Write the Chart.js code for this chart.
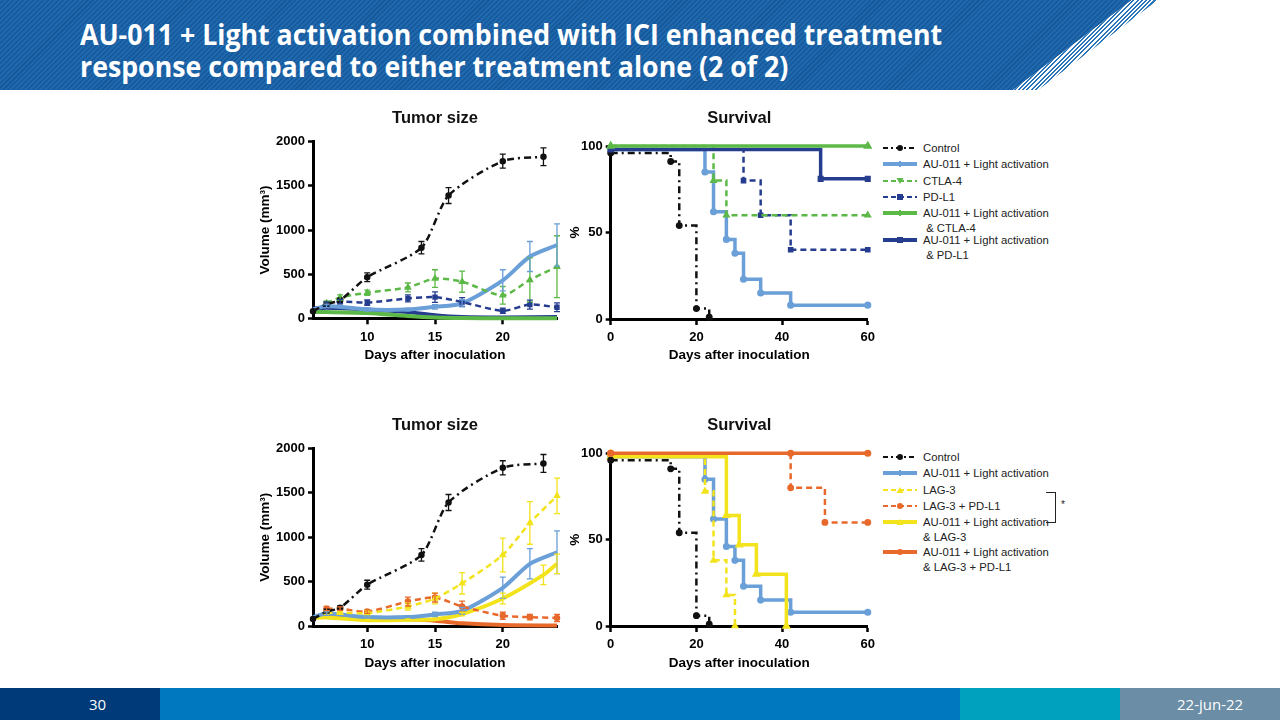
<!DOCTYPE html>
<html>
<head>
<meta charset="utf-8">
<script src="https://cdn.jsdelivr.net/npm/chart.js@4.4.1/dist/chart.umd.min.js"></script>
<style>
  body { margin: 0; width: 1280px; height: 720px; overflow: hidden; background: #fff; position: relative; font-family: "Liberation Sans", Arial, sans-serif; }
  #header { position: absolute; left: 0; top: 0; width: 1280px; height: 90px;
    background: repeating-linear-gradient(135deg, #1f68ad 0 2px, #165a9c 2px 3.5px);
    clip-path: polygon(0 0, 1132px 0, 1013px 90px, 0 90px); }
  #stripes { position: absolute; left: 0; top: 0; width: 1280px; height: 90px;
    background: repeating-linear-gradient(135deg, #2a74b8 0 1.5px, #ffffff 1.5px 3px);
    clip-path: polygon(1132px 0, 1158px 0, 1038px 90px, 1013px 90px); }
  #title { position: absolute; left: 80px; top: 18px; color: #fff; font-family: "Open Sans", sans-serif; font-weight: 700; font-size: 28px; line-height: 32px; white-space: nowrap; transform-origin: 0 0; }
  canvas { position: absolute; }
  .legend { position: absolute; left: 883px; font-size: 11.3px; color: #222; }
  .item { position: absolute; left: 0; white-space: nowrap; line-height: 14.5px; }
  .item svg { position: absolute; left: 0; top: 2px; }
  .item .txt { position: absolute; left: 40px; top: 0; }
  #bracket { position: absolute; left: 1046px; top: 492px; width: 9px; height: 29px; border: 1.5px solid #222; border-left: none; }
  #star { position: absolute; left: 1061px; top: 499px; font-size: 10px; color: #222; }
  #footer div { position: absolute; top: 688px; height: 32px; }
  .ftxt { position: absolute; top: 694px; color: #fff; font-family: "Open Sans", sans-serif; font-size: 15px; }
</style>
</head>
<body>
<div id="header"></div>
<div id="stripes"></div>
<div id="title">AU-011 + Light activation combined with ICI enhanced treatment<br>response compared to either treatment alone (2 of 2)</div>

<canvas id="tumorTop" width="320" height="270" style="left:250px;top:100px"></canvas>
<canvas id="survTop" width="314" height="270" style="left:566px;top:100px"></canvas>
<canvas id="tumorBottom" width="320" height="270" style="left:250px;top:410px"></canvas>
<canvas id="survBottom" width="314" height="270" style="left:566px;top:410px"></canvas>

<div class="legend" id="legendTop" style="top:0"></div>
<div class="legend" id="legendBottom" style="top:0"></div>
<div id="bracket"></div>
<div id="star">*</div>

<div id="footer">
  <div style="left:0;width:160px;background:#003a78"></div>
  <div style="left:160px;width:800px;background:#0078c0"></div>
  <div style="left:960px;width:160px;background:#00a0bf"></div>
  <div style="left:1120px;width:160px;background:#6b8da6"></div>
</div>
<div class="ftxt" style="left:89px">30</div>
<div class="ftxt" style="left:1177px">22-jun-22</div>

<script>
// axis ticks
const tumorXTicks = [10, 15, 20];
const tumorYTicks = [0, 500, 1000, 1500, 2000];
const survXTicks = [0, 20, 40, 60];
const survYTicks = [0, 50, 100];

// tumor size, mm3 (days after inoculation)
const dayControl = [6, 7, 8, 10, 14, 16, 20, 23];
const volControl = [80, 160, 205, 465, 800, 1390, 1780, 1830];
const errControl = [0, 30, 20, 50, 70, 90, 80, 100];

const dayAu = [6, 7, 10, 13, 15, 17, 20, 22, 24];
const volAu = [100, 140, 100, 100, 130, 170, 430, 700, 830];
const errAu = [0, 20, 15, 15, 25, 40, 120, 170, 240];

const dayCtla4 = [7, 8, 10, 13, 15, 17, 20, 22, 24];
const volCtla4 = [170, 235, 290, 350, 450, 415, 260, 435, 585];
const errCtla4 = [20, 30, 30, 50, 100, 120, 100, 250, 350];

const dayPdl1 = [7, 8, 10, 13, 15, 17, 20, 22, 24];
const volPdl1 = [165, 190, 178, 225, 240, 185, 85, 155, 125];
const errPdl1 = [20, 25, 30, 40, 60, 50, 30, 50, 50];

const dayAuCtla4 = [6, 7, 10, 13, 15, 17, 20, 24];
const volAuCtla4 = [70, 70, 60, 25, 8, 2, 0, 0];

const dayAuPdl1 = [6, 7, 10, 13, 15, 17, 20, 24];
const volAuPdl1 = [110, 120, 100, 70, 35, 15, 10, 15];

const dayLag3 = [7, 8, 10, 13, 15, 17, 20, 22, 24];
const volLag3 = [150, 150, 145, 220, 310, 480, 800, 1160, 1465];
const errLag3 = [20, 20, 30, 40, 60, 120, 190, 240, 200];

const dayLag3Pdl1 = [7, 8, 10, 13, 15, 17, 20, 22, 24];
const volLag3Pdl1 = [195, 195, 162, 275, 320, 220, 115, 100, 90];
const errLag3Pdl1 = [25, 20, 20, 50, 50, 60, 40, 30, 40];

const dayAuLag3 = [6, 7, 10, 13, 15, 17, 20, 23, 24];
const volAuLag3 = [90, 95, 65, 70, 75, 135, 310, 575, 700];
const errAuLag3 = [0, 0, 10, 10, 10, 20, 60, 110, 110];

const dayAuLag3Pdl1 = [6, 7, 10, 13, 15, 17, 20, 24];
const volAuLag3Pdl1 = [100, 105, 90, 75, 60, 30, 10, 5];

// survival, % (Kaplan-Meier steps)
const sdControl = [0, 14, 16, 20, 23];
const svControl = [96, 91, 54, 6, 1];
const sdAu = [0, 22, 24, 27, 29, 31, 35, 42, 60];
const svAu = [98, 85, 62, 46, 38, 23, 15, 8, 8];
const sdCtla4 = [0, 24, 27, 60];
const svCtla4 = [100, 80, 60, 60];
const sdPdl1 = [0, 31, 35, 42, 60];
const svPdl1 = [98, 80, 60, 40, 40];
const sdAuCtla4 = [0, 60];
const svAuCtla4 = [100, 100];
const sdAuPdl1 = [0, 49, 60];
const svAuPdl1 = [98, 81, 81];
const sdLag3 = [0, 22, 24, 27, 29];
const svLag3 = [100, 78, 38, 18, 0];
const sdLag3Pdl1 = [0, 42, 50, 60];
const svLag3Pdl1 = [100, 80, 60, 60];
const sdAuLag3 = [0, 27, 30, 34, 41];
const svAuLag3 = [98, 64, 47, 30, 0];
const sdAuLag3Pdl1 = [0, 42, 60];
const svAuLag3Pdl1 = [100, 100, 100];

const BLACK = "#111111";
const LIGHTBLUE = "#6a9fd8";
const NAVY = "#263d8f";
const GREEN = "#5cb947";
const YELLOW = "#f2e31c";
const ORANGE = "#e8692c";

const DASHES = { dashdot: [7, 4, 2, 4], dash: [6, 4], solid: [] };
const FONT = "'Liberation Sans', Arial, sans-serif";

function pts(xs, ys) {
  return xs.map((x, i) => ({ x: x, y: ys[i] }));
}

function series(label, xs, ys, color, style, marker, order, errs) {
  const solid = style === "solid";
  return {
    label: label,
    data: pts(xs, ys),
    borderColor: color,
    backgroundColor: color,
    borderWidth: solid ? 4 : 2.5,
    borderDash: DASHES[style],
    pointStyle: marker,
    pointRadius: solid ? 0 : 2,
    tension: 0.25,
    order: order,
    clip: 6,
    errors: errs,
  };
}

function steps(label, xs, ys, color, style, marker, order) {
  const solid = style === "solid";
  return {
    label: label,
    data: pts(xs, ys),
    borderColor: color,
    backgroundColor: color,
    borderWidth: solid ? 3.5 : 2.5,
    borderDash: DASHES[style],
    pointStyle: marker,
    pointRadius: solid ? 1.8 : 2.2,
    stepped: true,
    order: order,
    clip: 6,
  };
}

// vertical error bars (mean +/- SEM)
const errorBars = {
  id: "errorBars",
  afterDatasetsDraw(chart) {
    const ctx = chart.ctx;
    const yScale = chart.scales.y;
    chart.data.datasets.forEach((ds, i) => {
      if (!ds.errors) return;
      const meta = chart.getDatasetMeta(i);
      ctx.save();
      ctx.strokeStyle = ds.borderColor;
      ctx.lineWidth = 1.3;
      meta.data.forEach((pt, j) => {
        const e = ds.errors[j];
        if (!e) return;
        const v = ds.data[j].y;
        const top = yScale.getPixelForValue(v + e);
        const bot = yScale.getPixelForValue(Math.max(v - e, 0));
        ctx.beginPath();
        ctx.moveTo(pt.x, top); ctx.lineTo(pt.x, bot);
        ctx.moveTo(pt.x - 3, top); ctx.lineTo(pt.x + 3, top);
        ctx.moveTo(pt.x - 3, bot); ctx.lineTo(pt.x + 3, bot);
        ctx.stroke();
      });
      ctx.restore();
    });
  },
};

function axis(min, max, ticks, title) {
  return {
    type: "linear",
    min: min,
    max: max,
    afterBuildTicks: (s) => { s.ticks = ticks.map((v) => ({ value: v })); },
    grid: { drawOnChartArea: false, drawTicks: true, tickLength: 5, tickWidth: 2.5, tickColor: "#000" },
    border: { display: true, color: "#000", width: 3 },
    ticks: { color: "#000", padding: 4, font: { family: FONT, size: 13, weight: "bold" },
      callback: (v) => String(v) },
    title: { display: true, text: title, color: "#000", font: { family: FONT, size: 13.5, weight: "bold" } },
  };
}

// geo: [canvas height, plot top, plot bottom, plot left, right pad, title centre, x title centre, y title centre]
function makeChart(id, datasets, xr, yr, titleText, yTitle, geo) {
  const [h, plotTop, plotBottom, plotLeft, rightPad, titleY, xTitleY, yTitleX] = geo;
  const titleFont = 16.5;
  const titleH = titleFont * 1.2;
  const padTop = titleY - titleH / 2;
  const xAxisH = h - plotBottom;
  const xt = axis(xr[0], xr[1], xr[2], "Days after inoculation");
  xt.afterFit = (s) => { s.height = xAxisH; };
  xt.title.padding = { top: 0, bottom: h - xTitleY - 13.5 * 1.2 / 2 };
  xt.ticks.padding = 5;
  xt.grid.tickLength = 6;
  const yt = axis(yr[0], yr[1], yr[2], yTitle);
  yt.afterFit = (s) => { s.width = plotLeft; };
  yt.title.padding = { top: Math.max(yTitleX - 13.5 * 1.2 / 2, 0), bottom: 0 };
  yt.ticks.padding = 3;
  return new Chart(document.getElementById(id), {
    type: "line",
    data: { datasets: datasets },
    options: {
      responsive: false,
      animation: false,
      layout: { padding: { top: padTop, right: rightPad, left: 0, bottom: 0 } },
      plugins: {
        legend: { display: false },
        tooltip: { enabled: false },
        title: {
          display: true,
          fullSize: false,
          text: titleText,
          color: "#111",
          font: { family: FONT, size: titleFont, weight: "bold" },
          padding: { top: 0, bottom: plotTop - padTop - titleH },
        },
      },
      scales: { x: xt, y: yt },
    },
    plugins: [errorBars],
  });
}

makeChart("tumorTop", [
  series("Control", dayControl, volControl, BLACK, "dashdot", "circle", 0, errControl),
  series("CTLA-4", dayCtla4, volCtla4, GREEN, "dash", "triangle", 1, errCtla4),
  series("PD-L1", dayPdl1, volPdl1, NAVY, "dash", "rect", 2, errPdl1),
  series("AU-011 + Light activation", dayAu, volAu, LIGHTBLUE, "solid", "circle", 3, errAu),
  series("AU-011 + Light activation & CTLA-4", dayAuCtla4, volAuCtla4, GREEN, "solid", "triangle", 4),
  series("AU-011 + Light activation & PD-L1", dayAuPdl1, volAuPdl1, NAVY, "solid", "rect", 5),
], [6, 24, tumorXTicks], [0, 2000, tumorYTicks], "Tumor size", "Volume (mm³)",
  [270, 41.7, 218.3, 63, 13, 18, 255, 15]);

makeChart("survTop", [
  steps("AU-011 + Light activation & CTLA-4", sdAuCtla4, svAuCtla4, GREEN, "solid", "triangle", 0),
  steps("AU-011 + Light activation & PD-L1", sdAuPdl1, svAuPdl1, NAVY, "solid", "rect", 1),
  steps("Control", sdControl, svControl, BLACK, "dashdot", "circle", 2),
  steps("CTLA-4", sdCtla4, svCtla4, GREEN, "dash", "triangle", 3),
  steps("PD-L1", sdPdl1, svPdl1, NAVY, "dash", "rect", 4),
  steps("AU-011 + Light activation", sdAu, svAu, LIGHTBLUE, "solid", "circle", 5),
], [0, 60, survXTicks], [0, 100, survYTicks], "Survival", "%",
  [270, 46, 219, 44.7, 9, 18, 255, 9]);

makeChart("tumorBottom", [
  series("Control", dayControl, volControl, BLACK, "dashdot", "circle", 0, errControl),
  series("LAG-3", dayLag3, volLag3, YELLOW, "dash", "triangle", 1, errLag3),
  series("LAG-3 + PD-L1", dayLag3Pdl1, volLag3Pdl1, ORANGE, "dash", "circle", 2, errLag3Pdl1),
  series("AU-011 + Light activation", dayAu, volAu, LIGHTBLUE, "solid", "circle", 3, errAu),
  series("AU-011 + Light activation & LAG-3", dayAuLag3, volAuLag3, YELLOW, "solid", "triangle", 4, errAuLag3),
  series("AU-011 + Light activation & LAG-3 + PD-L1", dayAuLag3Pdl1, volAuLag3Pdl1, ORANGE, "solid", "circle", 5),
], [6, 24, tumorXTicks], [0, 2000, tumorYTicks], "Tumor size", "Volume (mm³)",
  [270, 38.3, 216, 63, 13, 15, 253, 15]);

makeChart("survBottom", [
  steps("AU-011 + Light activation & LAG-3 + PD-L1", sdAuLag3Pdl1, svAuLag3Pdl1, ORANGE, "solid", "circle", 0),
  steps("LAG-3 + PD-L1", sdLag3Pdl1, svLag3Pdl1, ORANGE, "dash", "circle", 1),
  steps("Control", sdControl, svControl, BLACK, "dashdot", "circle", 2),
  steps("AU-011 + Light activation & LAG-3", sdAuLag3, svAuLag3, YELLOW, "solid", "triangle", 3),
  steps("LAG-3", sdLag3, svLag3, YELLOW, "dash", "triangle", 4),
  steps("AU-011 + Light activation", sdAu, svAu, LIGHTBLUE, "solid", "circle", 5),
], [0, 60, survXTicks], [0, 100, survYTicks], "Survival", "%",
  [270, 43.3, 216, 44.7, 9, 15, 253, 9]);

// legends (shared by each pair of panels)
function sample(color, style, marker) {
  const w = style === "solid" ? 4 : 2;
  const dash = style === "dashdot" ? 'stroke-dasharray="5,3,2,3"' : style === "dash" ? 'stroke-dasharray="5,3"' : "";
  let m = "";
  if (marker === "circle") m = `<circle cx="17" cy="5" r="3" fill="${color}"/>`;
  if (marker === "rect") m = `<rect x="14" y="2" width="6" height="6" fill="${color}"/>`;
  if (marker === "tridown") m = `<polygon points="13.5,2 20.5,2 17,8" fill="${color}"/>`;
  if (marker === "tri") m = `<polygon points="13.5,8 20.5,8 17,2" fill="${color}"/>`;
  if (marker === "tick") m = `<rect x="16" y="2" width="2" height="6" fill="${color}"/>`;
  return `<svg width="34" height="10"><line x1="0" y1="5" x2="34" y2="5" stroke="${color}" stroke-width="${w}" ${dash}/>${m}</svg>`;
}

function buildLegend(id, items) {
  const el = document.getElementById(id);
  items.forEach((it) => {
    const d = document.createElement("div");
    d.className = "item";
    d.style.top = (it.y - 7) + "px";
    d.innerHTML = sample(it.color, it.style, it.marker) + `<div class="txt">${it.text.join("<br>")}</div>`;
    el.appendChild(d);
  });
}

buildLegend("legendTop", [
  { y: 148, text: ["Control"], color: BLACK, style: "dashdot", marker: "circle" },
  { y: 164, text: ["AU-011 + Light activation"], color: LIGHTBLUE, style: "solid", marker: "tick" },
  { y: 181, text: ["CTLA-4"], color: GREEN, style: "dash", marker: "tridown" },
  { y: 197, text: ["PD-L1"], color: NAVY, style: "dash", marker: "rect" },
  { y: 213, text: ["AU-011 + Light activation", "&nbsp;&amp; CTLA-4"], color: GREEN, style: "solid", marker: "tick" },
  { y: 240, text: ["AU-011 + Light activation", "&nbsp;&amp; PD-L1"], color: NAVY, style: "solid", marker: "rect" },
]);

buildLegend("legendBottom", [
  { y: 457, text: ["Control"], color: BLACK, style: "dashdot", marker: "circle" },
  { y: 473, text: ["AU-011 + Light activation"], color: LIGHTBLUE, style: "solid", marker: "tick" },
  { y: 490, text: ["LAG-3"], color: YELLOW, style: "dash", marker: "tri" },
  { y: 506, text: ["LAG-3 + PD-L1"], color: ORANGE, style: "dash", marker: "circle" },
  { y: 522, text: ["AU-011 + Light activation", "&amp; LAG-3"], color: YELLOW, style: "solid", marker: "tri" },
  { y: 552, text: ["AU-011 + Light activation", "&amp; LAG-3 + PD-L1"], color: ORANGE, style: "solid", marker: "circle" },
]);

// squeeze the slide title to the width it has in the original
const titleEl = document.getElementById("title");
const mctx = document.createElement("canvas").getContext("2d");
mctx.font = "700 28px 'Open Sans'";
const w1 = mctx.measureText("AU-011 + Light activation combined with ICI enhanced treatment").width;
titleEl.style.transform = "scaleX(" + (862 / w1).toFixed(3) + ")";
</script>
</body>
</html>
